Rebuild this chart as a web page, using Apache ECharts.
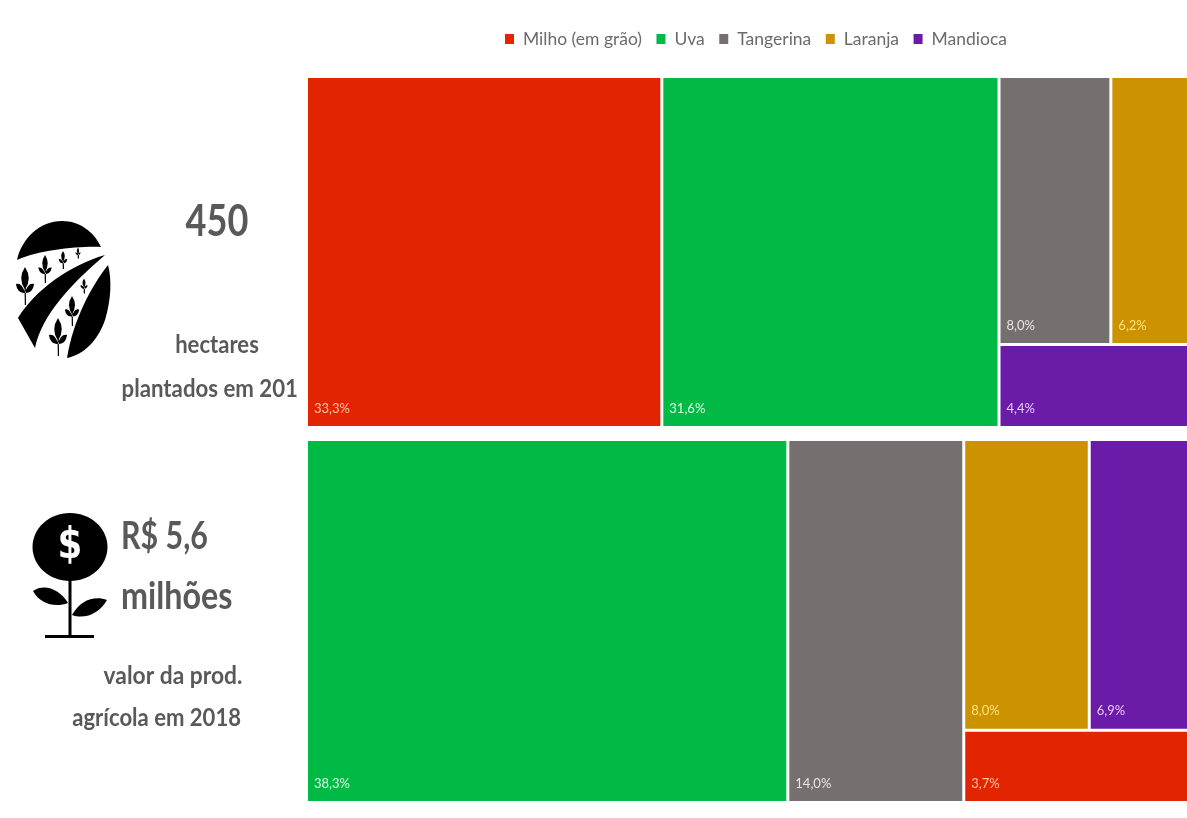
<!DOCTYPE html>
<html>
<head>
<meta charset="utf-8">
<style>
html, body { margin: 0; padding: 0; background: #fff; overflow: hidden; }
#main { width: 1187px; height: 818px; }
</style>
<script src="https://cdn.jsdelivr.net/npm/echarts@6/dist/echarts.min.js"></script>
</head>
<body>
<div id="main"></div>
<script>
const categories = ['Milho (em grão)', 'Uva', 'Tangerina', 'Laranja', 'Mandioca'];
const colors = ['#E32400', '#00BA45', '#75706F', '#CC9200', '#6A1BA8'];
const labelColors = ['#FFC9B0', '#D8FFE8', '#E8E4E0', '#FFE27A', '#EBC8FF'];
const hectares = [33.3, 31.6, 8.0, 6.2, 4.4];
const valor = [3.7, 38.3, 14.0, 8.0, 6.9];

const textGrey = '#595959';
const font = 'Lato';

const leaf = (values, i) => ({
    name: categories[i],
    value: values[i],
    itemStyle: { color: colors[i] },
    label: { color: labelColors[i] }
});
const group = children => ({ children: children });

// the nesting keeps the same arrangement of boxes as the original
const hectaresTree = [
    leaf(hectares, 0),
    leaf(hectares, 1),
    group([group([leaf(hectares, 2), leaf(hectares, 3)]), leaf(hectares, 4)])
];
const valorTree = [
    group([leaf(valor, 1), leaf(valor, 2)]),
    group([group([leaf(valor, 3), leaf(valor, 4)]), leaf(valor, 0)])
];

const treemap = (top, height, data) => ({
    type: 'treemap',
    left: 308,
    top: top,
    width: 888,
    height: height,
    roam: false,
    nodeClick: false,
    sort: false,
    squareRatio: 1.8,
    breadcrumb: { show: false },
    itemStyle: { gapWidth: 3, borderWidth: 0, borderColor: '#fff' },
    label: {
        show: true,
        position: 'insideBottomLeft',
        distance: 6,
        padding: [0, 0, 5, 0],
        fontFamily: font,
        fontSize: 13,
        formatter: p => p.value.toFixed(1).replace('.', ',') + '%'
    },
    data: data
});

const text = (x, y, str, size, align, scaleX) => ({
    type: 'text',
    x: x,
    y: y,
    scaleX: scaleX || 1,
    style: {
        text: str,
        fontFamily: font,
        fontSize: size,
        fontWeight: 'bold',
        fill: textGrey,
        align: align || 'center',
        verticalAlign: 'middle'
    }
});

const black = { fill: '#000' };
const path = d => ({ type: 'path', shape: { pathData: d }, style: black });

// small plant inside the field icon
const sprout = (x, y, h) => {
    const w = h * 0.2;
    return path(
        'M' + (x - 0.7) + ' ' + (y - h * 0.35) + 'L' + (x + 0.7) + ' ' + (y - h * 0.35) + 'L' + (x + 1) + ' ' + (y + h * 0.5) + 'L' + (x - 0.2) + ' ' + (y + h * 0.5) + 'Z' +
        'M' + x + ' ' + (y - h * 0.5) + 'Q' + (x + w) + ' ' + (y - h * 0.2) + ' ' + x + ' ' + (y + h * 0.1) + 'Q' + (x - w) + ' ' + (y - h * 0.2) + ' ' + x + ' ' + (y - h * 0.5) + 'Z' +
        'M' + (x - w * 1.2) + ' ' + (y - h * 0.05) + 'Q' + (x - w * 0.4) + ' ' + (y - h * 0.1) + ' ' + x + ' ' + (y + h * 0.18) + 'Q' + (x - w) + ' ' + (y + h * 0.2) + ' ' + (x - w * 1.2) + ' ' + (y - h * 0.05) + 'Z' +
        'M' + (x + w * 1.2) + ' ' + (y - h * 0.05) + 'Q' + (x + w * 0.4) + ' ' + (y - h * 0.1) + ' ' + x + ' ' + (y + h * 0.18) + 'Q' + (x + w) + ' ' + (y + h * 0.2) + ' ' + (x + w * 1.2) + ' ' + (y - h * 0.05) + 'Z'
    );
};

const fieldIcon = [
    path('M17 260C22 238 40 221 62 221C80 221 94 232 101 247C78 246 40 250 17 260Z'),
    path('M105 255C70 265 35 290 18 318L35 348C42 315 70 285 105 255Z'),
    path('M108 265C112 280 111 300 105 320C98 340 85 354 67 358C73 320 92 285 108 265Z'),
    sprout(25, 286, 38),
    sprout(45, 269, 28),
    sprout(63, 260, 18),
    sprout(78, 253, 11),
    sprout(84, 286, 15),
    sprout(72, 311, 30),
    sprout(58, 337, 38)
];

const flowerIcon = [
    { type: 'ellipse', shape: { cx: 70, cy: 547, rx: 37.5, ry: 34 }, style: black },
    { type: 'rect', shape: { x: 68.5, y: 578, width: 3, height: 58 }, style: black },
    { type: 'rect', shape: { x: 45, y: 635, width: 49, height: 3 }, style: black },
    path('M33 591C45 583 60 590 68 603C55 608 40 604 33 591Z'),
    path('M72 615C80 600 95 595 107 600C100 613 85 620 72 615Z'),
    {
        type: 'text',
        x: 70,
        y: 547,
        scaleX: 0.85,
        style: { text: '$', fontFamily: 'DejaVu Sans', fontWeight: 'bold', fontSize: 42, fill: '#fff', align: 'center', verticalAlign: 'middle' }
    }
];

const option = {
    backgroundColor: '#fff',
    animation: false,
    tooltip: { show: false },
    legend: {
        data: categories,
        top: 30,
        left: 505,
        padding: 0,
        icon: 'rect',
        itemWidth: 9,
        itemHeight: 10,
        itemGap: 14.5,
        selectedMode: false,
        textStyle: { color: '#6b6b6b', fontFamily: font, fontSize: 17.5, padding: [0, 0, 0, 4] }
    },
    grid: { show: false, left: 0, top: 0, width: 1, height: 1 },
    xAxis: { show: false },
    yAxis: { show: false },
    series: [
        treemap(78, 348, hectaresTree),
        treemap(441, 360, valorTree),
        {
            type: 'custom',
            coordinateSystem: 'none',
            silent: true,
            data: [0],
            renderItem: () => ({ type: 'group', children: fieldIcon.concat(flowerIcon) })
        }
    ].concat(categories.map((name, i) => ({
        type: 'scatter',
        name: name,
        itemStyle: { color: colors[i], opacity: 1 },
        data: []
    }))),
    graphic: { elements: [
        text(217, 222, '450', 44, 'center', 0.82),
        text(217, 345, 'hectares', 24, 'center', 0.92),
        text(298, 389, 'plantados em 201', 24, 'right', 0.926),
        text(121, 537, 'R$ 5,6', 38, 'left', 0.8),
        text(121, 597, 'milhões', 38, 'left', 0.85),
        text(173, 676, 'valor da prod.', 24, 'center', 0.95),
        text(241, 718, 'agrícola em 2018', 24, 'right', 0.92)
    ] }
};

const myChart = echarts.init(document.getElementById('main'), null, { renderer: 'canvas' });
myChart.setOption(option);
</script>
</body>
</html>
